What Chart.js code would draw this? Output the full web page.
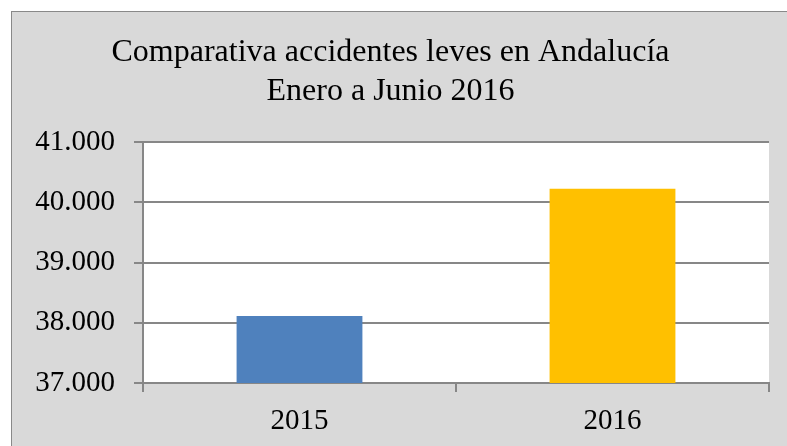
<!DOCTYPE html>
<html>
<head>
<meta charset="utf-8">
<script src="https://cdn.jsdelivr.net/npm/chart.js@4"></script>
<style>
  html, body { margin: 0; padding: 0; background: #fff; overflow: hidden; width: 787px; height: 446px; }
  #caja { position: absolute; left: 11px; top: 11px; width: 800px; height: 460px; background: #d9d9d9; border: 1px solid #898989; }
  #grafico { position: absolute; left: 0; top: 0; }
</style>
</head>
<body>
<div id="caja"><canvas id="grafico" width="764" height="434"></canvas></div>
<script>
const anos = ["2015", "2016"];
const accidentes = [38111, 40227];
const colores = ["#4f81bd", "#ffc000"];
const titulo = ["Comparativa accidentes leves en Andalucía", "Enero a Junio 2016"];

const fuente = "'Liberation Serif', serif";
const gris = "#878787";

function miles(v) {
  return String(v).replace(/\B(?=(\d{3})+(?!\d))/g, ".");
}

// fondo blanco solo en el area del grafico
const fondoArea = {
  id: "fondoArea",
  beforeDraw(chart) {
    const { ctx, chartArea } = chart;
    ctx.save();
    ctx.fillStyle = "#ffffff";
    ctx.fillRect(chartArea.left, chartArea.top, chartArea.right - chartArea.left, chartArea.bottom - chartArea.top);
    ctx.restore();
  }
};

const ctx = document.getElementById("grafico").getContext("2d");

new Chart(ctx, {
  type: "bar",
  data: {
    labels: anos,
    datasets: [{
      data: accidentes,
      backgroundColor: colores,
      categoryPercentage: 1,
      barPercentage: 0.402
    }]
  },
  options: {
    responsive: false,
    animation: false,
    devicePixelRatio: 1,
    layout: { padding: { top: 0, right: 7, bottom: 0, left: 0 } },
    plugins: {
      legend: { display: false },
      tooltip: { enabled: false },
      title: {
        display: true,
        text: titulo,
        color: "#000",
        font: { family: fuente, size: 32, weight: "normal", lineHeight: 1.19 },
        padding: { top: 22, bottom: 32 }
      }
    },
    scales: {
      x: {
        afterFit(scale) { scale.height = 63; },
        border: { color: gris, width: 2 },
        grid: { drawOnChartArea: false, color: gris, lineWidth: 2, tickLength: 9 },
        ticks: { color: "#000", padding: 12, font: { family: fuente, size: 29 } }
      },
      y: {
        min: 37000,
        max: 41000,
        afterFit(scale) { scale.width = 131; },
        border: { color: gris, width: 2 },
        grid: { color: gris, lineWidth: 2, tickLength: 9 },
        ticks: {
          stepSize: 1000,
          color: "#000",
          padding: 19,
          font: { family: fuente, size: 29 },
          callback: v => miles(v)
        }
      }
    }
  },
  plugins: [fondoArea]
});
</script>
</body>
</html>
